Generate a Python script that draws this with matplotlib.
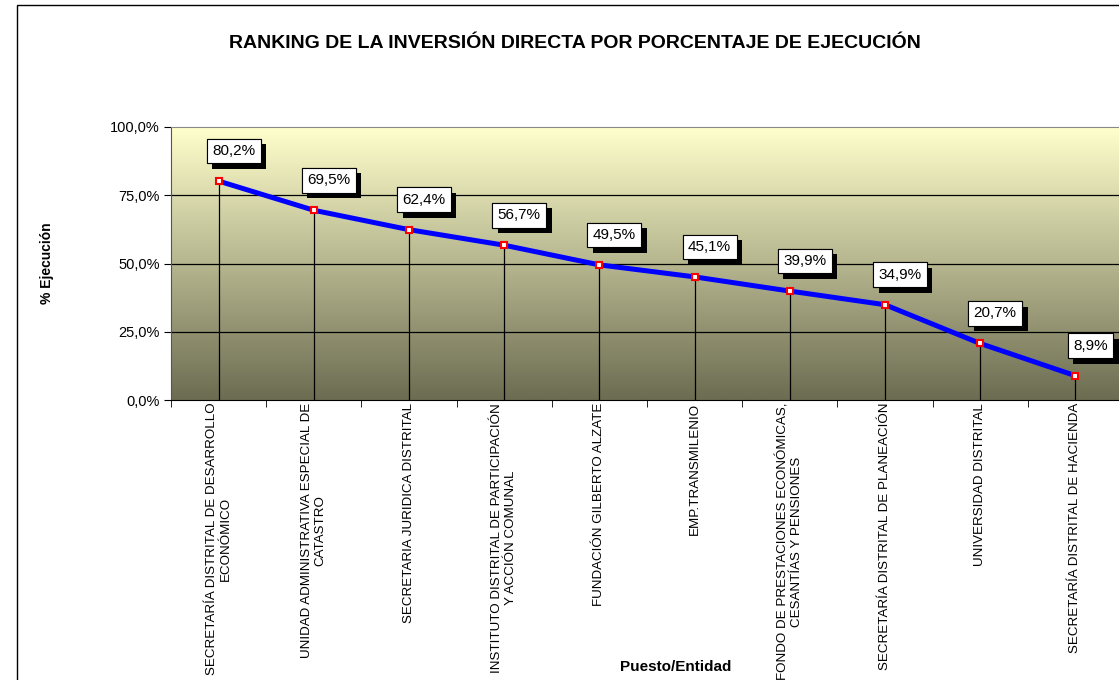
import numpy as np
import matplotlib.pyplot as plt
import matplotlib.patheffects as pe
from matplotlib.patches import Rectangle

plt.rcParams['font.family'] = ['Liberation Sans', 'DejaVu Sans']

entidades = [
    "SECRETARÍA DISTRITAL DE DESARROLLO\nECONÓMICO",
    "UNIDAD ADMINISTRATIVA ESPECIAL DE\nCATASTRO",
    "SECRETARIA JURIDICA DISTRITAL",
    "INSTITUTO DISTRITAL DE PARTICIPACIÓN\nY ACCIÓN COMUNAL",
    "FUNDACIÓN GILBERTO ALZATE",
    "EMP.TRANSMILENIO",
    "FONDO DE PRESTACIONES ECONÓMICAS,\nCESANTÍAS Y PENSIONES",
    "SECRETARÍA DISTRITAL DE PLANEACIÓN",
    "UNIVERSIDAD DISTRITAL",
    "SECRETARÍA DISTRITAL DE HACIENDA",
]
ejecucion = [80.2, 69.5, 62.4, 56.7, 49.5, 45.1, 39.9, 34.9, 20.7, 8.9]
y_ticks = [0, 25, 50, 75, 100]

fig = plt.figure(figsize=(11.19, 6.8), dpi=100)
W, H = 1119, 680

# outer chart frame
fig.patches.append(Rectangle((17 / W, -0.1), 1.2, (675 / H) + 0.1,
                             transform=fig.transFigure, fill=False,
                             edgecolor='black', linewidth=1.0))

ax = fig.add_axes([171 / W, 1 - 400 / H, 952 / W, 273 / H])
x = np.arange(len(ejecucion))
ax.set_xlim(-0.5, len(ejecucion) - 0.5)
ax.set_ylim(0, 100)

# gradient background
grad = np.linspace(0, 1, 256)[:, None]
top = np.array([255, 255, 204]) / 255
bot = np.array([108, 108, 82]) / 255
img = top[None, None, :] * (1 - grad[:, :, None]) + bot[None, None, :] * grad[:, :, None]
ax.imshow(img, extent=[-0.5, len(ejecucion) - 0.5, 0, 100], aspect='auto', zorder=0)

for yv in y_ticks[1:-1]:
    ax.axhline(yv, color='black', linewidth=0.9, zorder=1)

ax.vlines(x, 0, ejecucion, color='black', linewidth=0.9, zorder=2)
ax.plot(x, ejecucion, color='#0000FF', linewidth=3.6, zorder=3)
ax.plot(x, ejecucion, linestyle='none', marker='s', markersize=5,
        mfc='white', mec='red', mew=1.5, zorder=4)

for xi, v in zip(x, ejecucion):
    lab = ('%.1f%%' % v).replace('.', ',')
    t = ax.annotate(lab, (xi, v), xytext=(15, 30), textcoords='offset pixels',
                    ha='center', va='center', fontsize=11, zorder=6,
                    bbox=dict(boxstyle='square,pad=0.35', fc='white', ec='black', lw=0.8))
    t.get_bbox_patch().set_path_effects([
        pe.withSimplePatchShadow(offset=(4, -4), shadow_rgbFace='black', alpha=1.0),
        pe.Normal()])

ax.set_yticks(y_ticks)
ax.set_yticklabels([('%.1f%%' % v).replace('.', ',') for v in y_ticks], fontsize=10.5)
ax.set_xticks(x)
ax.set_xticklabels(entidades, rotation=90, fontsize=9.6, va='top', ha='center',
                   multialignment='center')
ax.set_xticks(np.arange(-0.5, len(ejecucion), 1), minor=True)
ax.tick_params(axis='x', which='major', length=0, pad=2)
ax.tick_params(axis='x', which='minor', length=5, direction='out', color='black')
ax.tick_params(axis='y', length=5, direction='out', color='black', pad=3)

ax.spines['top'].set_color('#888888')
ax.spines['left'].set_color('#555555')
ax.spines['bottom'].set_color('black')
ax.spines['right'].set_visible(False)

fig.text(575 / W, 1 - 44 / H, 'RANKING DE LA INVERSIÓN DIRECTA POR PORCENTAJE DE EJECUCIÓN',
         ha='center', va='center', fontsize=14, fontweight='bold')
fig.text(47 / W, 1 - 263 / H, '% Ejecución', rotation=90, ha='center', va='center',
         fontsize=10, fontweight='bold')
fig.text(676 / W, 1 - 667 / H, 'Puesto/Entidad', ha='center', va='center',
         fontsize=11, fontweight='bold')

fig.savefig('out.png', dpi=100)
